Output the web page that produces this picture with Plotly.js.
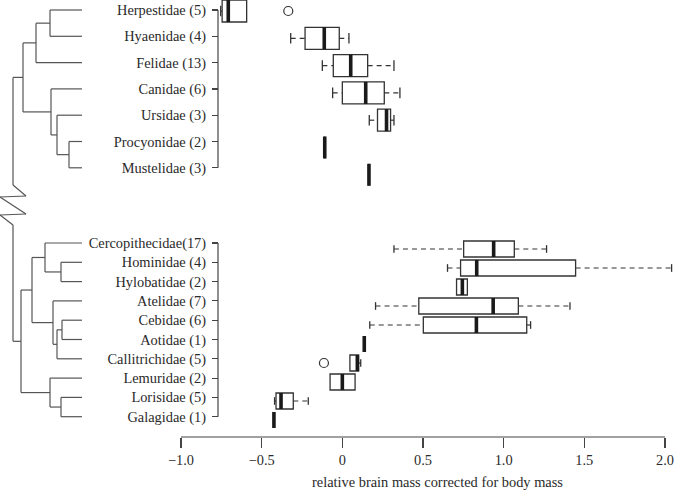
<!DOCTYPE html>
<html><head><meta charset="utf-8">
<script src="https://cdn.plot.ly/plotly-3.0.1.min.js"></script>
<style>html,body{margin:0;padding:0;background:#fff}</style>
</head><body><div id="chart" style="width:675px;height:492px"></div>
<script>
// ---------- data ----------
const carnivores = ['Herpestidae (5)','Hyaenidae (4)','Felidae (13)','Canidae (6)','Ursidae (3)','Procyonidae (2)','Mustelidae (3)'];
const primates = ['Cercopithecidae(17)','Hominidae (4)','Hylobatidae (2)','Atelidae (7)','Cebidae (6)','Aotidae (1)','Callitrichidae (5)','Lemuridae (2)','Lorisidae (5)','Galagidae (1)'];
const families = carnivores.concat(primates);
const lowerWhisker = [-0.754,-0.320,-0.124,-0.060,0.167,-0.109,0.165, 0.320,0.652,0.708,0.206,0.170,0.136,0.047,-0.076,-0.420,-0.424];
const q1           = [-0.745,-0.231,-0.056, 0.000,0.218,-0.109,0.165, 0.752,0.733,0.708,0.474,0.502,0.136,0.047,-0.076,-0.411,-0.424];
const median       = [-0.707,-0.112, 0.052, 0.145,0.274,-0.109,0.165, 0.938,0.833,0.744,0.935,0.831,0.136,0.093, 0.000,-0.380,-0.424];
const q3           = [-0.593,-0.019, 0.157, 0.260,0.299,-0.109,0.165, 1.066,1.446,0.775,1.091,1.143,0.136,0.101, 0.079,-0.304,-0.424];
const upperWhisker = [-0.593, 0.041, 0.320, 0.357,0.320,-0.109,0.165, 1.266,2.041,0.775,1.411,1.167,0.136,0.114, 0.079,-0.211,-0.424];
const outlierFamilies = ['Herpestidae (5)','Callitrichidae (5)'];
const outlierValues = [-0.335,-0.114];
const xTickVals = [-1,-0.5,0,0.5,1,1.5,2];
const xTickText = ['\u22121.0','\u22120.5','0','0.5','1.0','1.5','2.0'];

// ---------- layout geometry (pixels) ----------
const W = 675, H = 492, PLOT_BOTTOM = 437;
const nTop = carnivores.length;
const tickPos = families.map((f,i)=> i<nTop ? 10 + 26.3*i : 243 + 19.3*(i-nTop));
const boxPos  = families.map((f,i)=> i<nTop ? 11 + 27.3*i : 249 + 19.0*(i-nTop));
const boxH    = families.map((f,i)=> i<nTop ? 22 : 16);
const px = x => x / W;

const ink = '#333', treeInk = '#555';
const font = {family:'"Liberation Serif", "Times New Roman", serif', size:14.4, color:'#2a2a2a'};

// ---------- traces ----------
const traces = [];
[[0,nTop],[nTop,families.length]].forEach(([a,b])=>{
  traces.push({
    type:'box', orientation:'h',
    y: boxPos.slice(a,b),
    q1: q1.slice(a,b), median: median.slice(a,b), q3: q3.slice(a,b),
    lowerfence: q1.slice(a,b), upperfence: q3.slice(a,b),
    width: boxH[a], whiskerwidth: 0, boxpoints:false,
    fillcolor:'#ffffff', line:{color:ink, width:1.3},
    hoverinfo:'skip', showlegend:false
  });
});
// dashed whiskers
const wx=[], wy=[], cx=[], cy=[], mx=[], my=[];
families.forEach((f,i)=>{
  const y = boxPos[i], c = boxH[i]*0.24;
  if (lowerWhisker[i] < q1[i]) {
    wx.push(lowerWhisker[i], q1[i], null); wy.push(y, y, null);
    cx.push(lowerWhisker[i], lowerWhisker[i], null); cy.push(y-c, y+c, null);
  }
  if (upperWhisker[i] > q3[i]) {
    wx.push(q3[i], upperWhisker[i], null); wy.push(y, y, null);
    cx.push(upperWhisker[i], upperWhisker[i], null); cy.push(y-c, y+c, null);
  }
  mx.push(median[i], median[i], null); my.push(y-boxH[i]/2, y+boxH[i]/2, null);
});
traces.push({type:'scatter', mode:'lines', x:wx, y:wy, line:{color:ink, width:1.2, dash:'5px,4px'}, hoverinfo:'skip', showlegend:false, connectgaps:false});
traces.push({type:'scatter', mode:'lines', x:cx, y:cy, line:{color:ink, width:1.3}, hoverinfo:'skip', showlegend:false});
traces.push({type:'scatter', mode:'lines', x:mx, y:my, line:{color:'#1a1a1a', width:3.6}, hoverinfo:'skip', showlegend:false});
traces.push({type:'scatter', mode:'markers',
  x: outlierValues, y: outlierFamilies.map(f=>boxPos[families.indexOf(f)]),
  marker:{symbol:'circle-open', size:9, color:ink, line:{width:1.2}}, hoverinfo:'skip', showlegend:false});

// ---------- tree (cladogram) ----------
const TIP_X = 82;
const carnTree = {x:23, c:[{x:36, c:[{x:50, c:[0,1]}, 2]}, {x:51, c:[3, {x:57, c:[4, {x:69, c:[5,6]}]}]}]};
const primTree = {x:21, c:[{x:32, c:[{x:45, c:[7, {x:61, c:[8,9]}]}, {x:53, c:[10, {x:57, c:[{x:62, c:[11,12]}, 13]}]}]}, {x:50, c:[14, {x:61, c:[15,16]}]}]};
const shapes = [];
function seg(x0,y0,x1,y1){
  shapes.push({type:'line', xref:'paper', yref:'y', x0:px(x0), x1:px(x1), y0:y0, y1:y1, line:{color:treeInk, width:1.2}});
}
function drawNode(n){
  const ys = n.c.map(ch=>{
    if (typeof ch === 'number') { seg(n.x, tickPos[ch], TIP_X, tickPos[ch]); return tickPos[ch]; }
    const cy = drawNode(ch); seg(n.x, cy, ch.x, cy); return cy;
  });
  const y0 = Math.min(...ys), y1 = Math.max(...ys);
  seg(n.x, y0, n.x, y1);
  return (y0+y1)/2;
}
const yc = drawNode(carnTree), yp = drawNode(primTree);
const ROOT_X = 13;
seg(ROOT_X, yc, carnTree.x, yc);
seg(ROOT_X, yp, primTree.x, yp);
// root with axis-break zigzag
const zig = [[ROOT_X,yc],[ROOT_X,185],[26,196],[0,197],[26,214],[0,215],[ROOT_X,225],[ROOT_X,yp]];
for (let k=0;k<zig.length-1;k++) seg(zig[k][0],zig[k][1],zig[k+1][0],zig[k+1][1]);

// y axis segments (one per group, tick to tick)
const AX_X = 218;
[[0,nTop-1],[nTop,families.length-1]].forEach(([a,b])=>{
  shapes.push({type:'line', xref:'paper', yref:'y', x0:px(AX_X), x1:px(AX_X), y0:tickPos[a], y1:tickPos[b], line:{color:'#444', width:1.2}});
});
// x axis line from first to last tick
shapes.push({type:'line', xref:'x', yref:'paper', x0:xTickVals[0], x1:xTickVals[xTickVals.length-1], y0:0, y1:0, line:{color:'#444', width:1.2}});

// ---------- layout ----------
const X0PX = 181, PX_PER_UNIT = 161.33, XMAX = 2.05;
const layout = {
  width:W, height:H, paper_bgcolor:'#fff', plot_bgcolor:'rgba(0,0,0,0)',
  margin:{l:0, r:0, t:0, b:H-PLOT_BOTTOM, pad:0},
  showlegend:false, font:font,
  xaxis:{range:[-1, XMAX], domain:[X0PX/W, (X0PX + (XMAX+1)*PX_PER_UNIT)/W],
    tickvals:xTickVals, ticktext:xTickText, ticks:'outside', ticklen:10, tickwidth:1.2, tickcolor:'#444',
    showline:false, showgrid:false, zeroline:false, automargin:false, tickfont:font, fixedrange:true},
  yaxis:{range:[PLOT_BOTTOM, 0], anchor:'free', position:px(AX_X), side:'left',
    tickvals:tickPos, ticktext:families, ticks:'outside', ticklen:6, tickwidth:1.2, tickcolor:'#444',
    showline:false, showgrid:false, zeroline:false, automargin:false, tickfont:font, fixedrange:true,
    ticklabelstandoff:3},
  boxmode:'overlay',
  shapes:shapes,
  annotations:[{text:'relative brain mass corrected for body mass', xref:'paper', yref:'paper',
    x:437/W, y:(PLOT_BOTTOM-482)/PLOT_BOTTOM, xanchor:'center', yanchor:'middle', showarrow:false, font:font}]
};
Plotly.newPlot('chart', traces, layout, {staticPlot:true, displayModeBar:false});
</script></body></html>
